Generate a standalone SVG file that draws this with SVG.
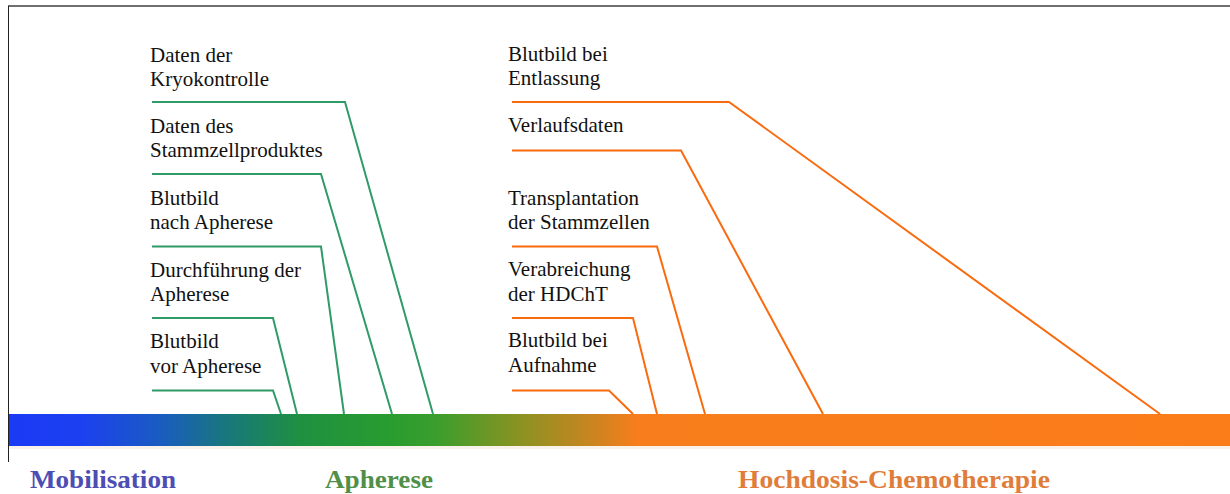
<svg xmlns="http://www.w3.org/2000/svg" width="1230" height="494" viewBox="0 0 1230 494">
  <style>
    .lbl { font-family: "Liberation Serif", "Times New Roman", serif; font-size: 21px; fill: #111; }
    .phase { font-family: "Liberation Serif", "Times New Roman", serif; font-size: 26px; font-weight: bold; }
    .g { fill: none; stroke: #2f9b66; stroke-width: 2; }
    .o { fill: none; stroke: #f96b0f; stroke-width: 2; }
  </style>
  <defs>
    <linearGradient id="bar" x1="8" y1="0" x2="1230" y2="0" gradientUnits="userSpaceOnUse">
      <stop offset="0" stop-color="#1a3af5"/>
      <stop offset="0.06" stop-color="#1c40f0"/>
      <stop offset="0.125" stop-color="#1a5cc0"/>
      <stop offset="0.18" stop-color="#18787a"/>
      <stop offset="0.24" stop-color="#1f9040"/>
      <stop offset="0.31" stop-color="#289c30"/>
      <stop offset="0.35" stop-color="#3a9e2c"/>
      <stop offset="0.42" stop-color="#8c9222"/>
      <stop offset="0.48" stop-color="#cc8420"/>
      <stop offset="0.515" stop-color="#f87d1c"/>
      <stop offset="1" stop-color="#fb7d1a"/>
    </linearGradient>
  </defs>
  <rect width="1230" height="494" fill="#ffffff"/>
  <g id="frame">
    <line x1="8" y1="6" x2="1230" y2="6" stroke="#707070" stroke-width="2"/>
    <line x1="8.5" y1="6" x2="8.5" y2="462" stroke="#222" stroke-width="1"/>
  </g>
  <g id="timeline">
    <rect x="9" y="414" width="1221" height="32" fill="url(#bar)"/>
    <rect x="9" y="446" width="1221" height="3" fill="#f6ece2" opacity="0.7"/>
  </g>
  <g id="phase-mobilisation"><text class="phase" x="30" y="488" fill="#4d4db4" textLength="146" lengthAdjust="spacingAndGlyphs">Mobilisation</text></g>
  <g id="phase-apherese"><text class="phase" x="325" y="488" fill="#4f8f47" textLength="108" lengthAdjust="spacingAndGlyphs">Apherese</text></g>
  <g id="phase-hdct"><text class="phase" x="738" y="488" fill="#e07d3a" textLength="312" lengthAdjust="spacingAndGlyphs">Hochdosis-Chemotherapie</text></g>

  <g id="n-kryo"><text class="lbl" x="150" y="62">Daten der</text><text class="lbl" x="150" y="86">Kryokontrolle</text></g>
  <g id="n-stamm"><text class="lbl" x="150" y="133">Daten des</text><text class="lbl" x="150" y="157">Stammzellproduktes</text></g>
  <g id="n-nach"><text class="lbl" x="150" y="205">Blutbild</text><text class="lbl" x="150" y="229">nach Apherese</text></g>
  <g id="n-durch"><text class="lbl" x="150" y="277">Durchführung der</text><text class="lbl" x="150" y="301">Apherese</text></g>
  <g id="n-vor"><text class="lbl" x="150" y="348">Blutbild</text><text class="lbl" x="150" y="373">vor Apherese</text></g>

  <g id="n-entl"><text class="lbl" x="508" y="61">Blutbild bei</text><text class="lbl" x="508" y="85">Entlassung</text></g>
  <g id="n-verl"><text class="lbl" x="508" y="132">Verlaufsdaten</text></g>
  <g id="n-trans"><text class="lbl" x="508" y="205">Transplantation</text><text class="lbl" x="508" y="229">der Stammzellen</text></g>
  <g id="n-verab"><text class="lbl" x="508" y="276">Verabreichung</text><text class="lbl" x="508" y="301">der HDChT</text></g>
  <g id="n-aufn"><text class="lbl" x="508" y="347">Blutbild bei</text><text class="lbl" x="508" y="372">Aufnahme</text></g>

  <g id="connectors">
    <polyline class="g" points="152,102 345,102 433,414"/>
    <polyline class="g" points="152,174 321,174 392,414"/>
    <polyline class="g" points="152,246.5 321,246.5 344,414"/>
    <polyline class="g" points="152,318 273,318 297,414"/>
    <polyline class="g" points="152,390.5 273,390.5 281,414"/>
    <polyline class="o" points="512,102 729,102 1160,414"/>
    <polyline class="o" points="512,150.5 681,150.5 823,414"/>
    <polyline class="o" points="512,246.5 657,246.5 705,414"/>
    <polyline class="o" points="512,318 633,318 657,414"/>
    <polyline class="o" points="512,390.5 609,390.5 633,414"/>
  </g>
</svg>
